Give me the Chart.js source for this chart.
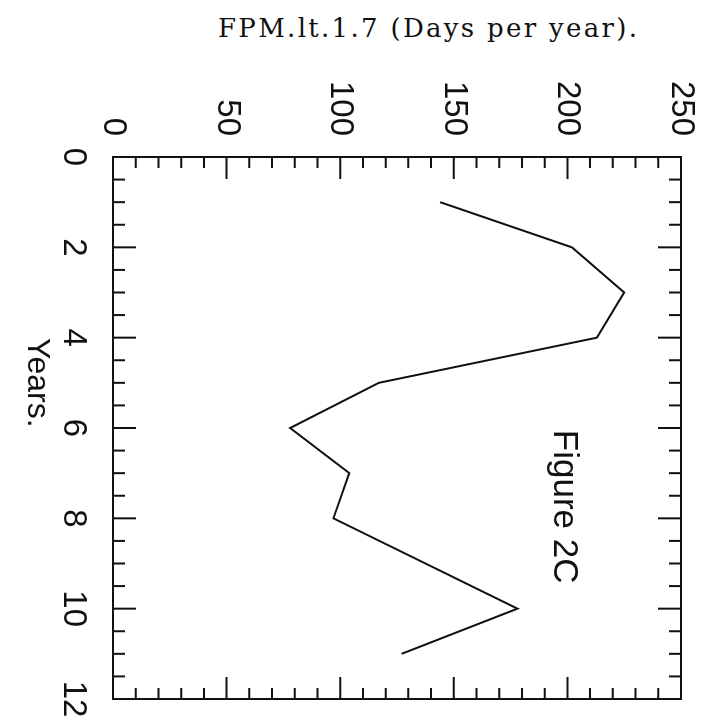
<!DOCTYPE html>
<html>
<head>
<meta charset="utf-8">
<script src="https://cdn.jsdelivr.net/npm/chart.js@4/dist/chart.umd.min.js"></script>
<style>
  html, body { margin: 0; padding: 0; background: #fff; overflow: hidden; }
  body { width: 704px; height: 724px; position: relative; }
  #title {
    position: absolute; left: 218px; top: 13px;
    font-family: "DejaVu Serif", "Liberation Serif", serif;
    font-size: 26px; line-height: 30px; color: #111;
    white-space: nowrap; display: inline-block;
  }
  /* the plot is laid out lying on its side and turned a quarter clockwise */
  #turn {
    position: absolute; left: 704px; top: 0;
    width: 724px; height: 704px;
    transform-origin: 0 0; transform: rotate(90deg);
  }
</style>
</head>
<body>
<div id="title">FPM.lt.1.7 (Days per year).</div>
<div id="turn"><canvas id="fpm-chart" width="724" height="704"></canvas></div>
<script>
const years = [1, 2, 3, 4, 5, 6, 7, 8, 10, 11];
const daysPerYear = [144, 202, 225, 213, 117, 78, 104, 97, 178, 127];

const yearRange = [0, 12];
const yearStep = 2;
const yearMinor = 0.5;
const dayRange = [0, 250];
const dayStep = 50;
const dayMinor = 10;

const figureLabel = 'Figure 2C';
const yearTitle = 'Years.';

// stretch the heading to its printed width
(function () {
  const el = document.getElementById('title');
  const w = el.getBoundingClientRect().width;
  const n = el.textContent.length - 1;
  el.style.letterSpacing = Math.max(0, (419 - w) / n) + 'px';
})();

const ink = '#111';
const sans = '"Liberation Sans", Arial, Helvetica, sans-serif';

// box round the plot with inward ticks on all four sides, plus the in-plot texts
const frameTicks = {
  id: 'frameTicks',
  afterDraw(chart) {
    const { ctx, chartArea: a, scales: { x, y } } = chart;
    ctx.save();
    ctx.strokeStyle = ink;
    ctx.lineWidth = 2;
    ctx.strokeRect(a.left, a.top, a.right - a.left, a.bottom - a.top);
    ctx.beginPath();
    for (let v = yearRange[0]; v <= yearRange[1] + 1e-9; v += yearMinor) {
      const px = x.getPixelForValue(v);
      const len = Math.abs(v % yearStep) < 1e-9 ? 23 : 12;
      ctx.moveTo(px, a.bottom); ctx.lineTo(px, a.bottom - len);
      ctx.moveTo(px, a.top); ctx.lineTo(px, a.top + len);
    }
    for (let v = dayRange[0]; v <= dayRange[1]; v += dayMinor) {
      const py = y.getPixelForValue(v);
      const len = v % dayStep === 0 ? 22 : 11;
      ctx.moveTo(a.left, py); ctx.lineTo(a.left + len, py);
      ctx.moveTo(a.right, py); ctx.lineTo(a.right - len, py);
    }
    ctx.stroke();

    ctx.fillStyle = ink;
    ctx.font = '35px ' + sans;
    ctx.textAlign = 'left';
    ctx.textBaseline = 'alphabetic';
    ctx.fillText(figureLabel, x.getPixelForValue(6.04), y.getPixelForValue(194));

    ctx.font = '32px ' + sans;
    ctx.textAlign = 'center';
    ctx.textBaseline = 'middle';
    ctx.fillText(yearTitle, x.getPixelForValue(5.0), a.bottom + 76);
    ctx.restore();
  }
};

new Chart(document.getElementById('fpm-chart'), {
  type: 'scatter',
  data: {
    datasets: [{
      data: years.map((yr, i) => ({ x: yr, y: daysPerYear[i] })),
      showLine: true,
      borderColor: ink,
      borderWidth: 2,
      pointRadius: 0,
      tension: 0,
      fill: false
    }]
  },
  options: {
    responsive: false,
    animation: false,
    devicePixelRatio: 1,
    layout: { padding: { left: 0, top: 23, right: 25, bottom: 0 } },
    plugins: { legend: { display: false }, tooltip: { enabled: false } },
    scales: {
      x: {
        type: 'linear',
        min: yearRange[0], max: yearRange[1],
        grid: { display: false, drawTicks: false },
        border: { display: false },
        ticks: { stepSize: yearStep, padding: 20, color: ink, font: { family: sans, size: 33 } },
        afterFit(s) { s.height = 113; s.paddingLeft = 0; s.paddingRight = 0; }
      },
      y: {
        type: 'linear',
        min: dayRange[0], max: dayRange[1],
        grid: { display: false, drawTicks: false },
        border: { display: false },
        ticks: { stepSize: dayStep, padding: 21, color: ink, font: { family: sans, size: 33 } },
        afterFit(s) { s.width = 157; s.paddingTop = 0; s.paddingBottom = 0; }
      }
    }
  },
  plugins: [frameTicks]
});
</script>
</body>
</html>
